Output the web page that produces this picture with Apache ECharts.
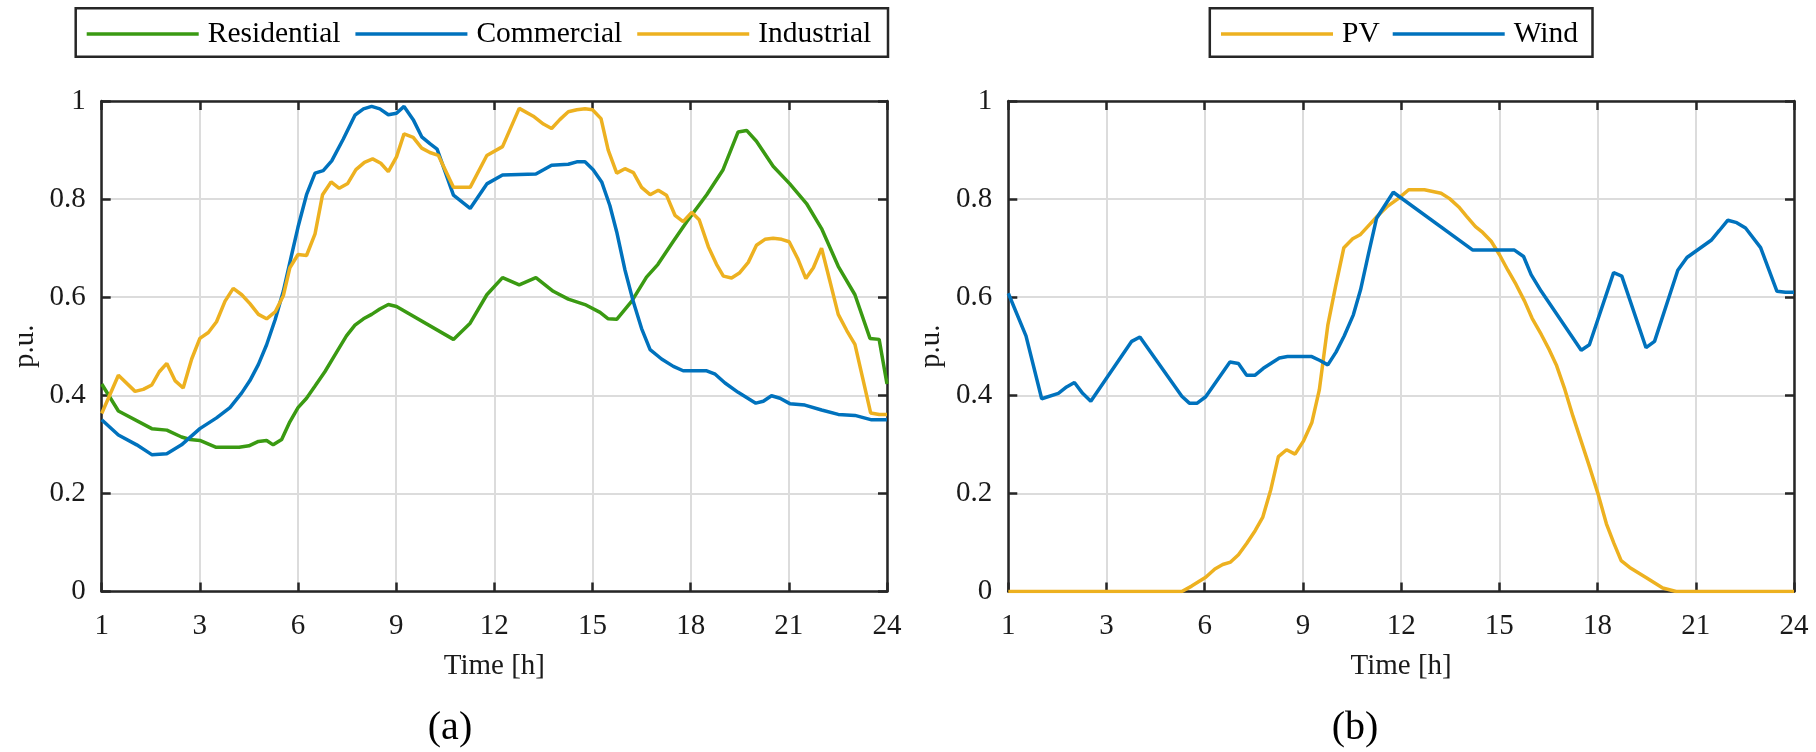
<!DOCTYPE html>
<html>
<head>
<meta charset="utf-8">
<script src="https://cdn.jsdelivr.net/npm/echarts@6/dist/echarts.min.js"></script>
<style>
html,body{margin:0;padding:0;background:#fff;}
#chart{width:1816px;height:752px;}
</style>
</head>
<body>
<div id="chart"></div>
<script>
// ---- data (hour position on axis, p.u.) ----
const xTickLabels = ['1','3','6','9','12','15','18','21','24'];
const yTickLabels = ['0','0.2','0.4','0.6','0.8','1'];
const loadNames = ['Residential','Commercial','Industrial'];
const genNames = ['PV','Wind'];

const residential = [[0,0.423],[0.51,0.368],[1.53,0.332],[1.99,0.329],[2.44,0.315],[2.7,0.310],[3.0,0.308],[3.5,0.294],[4.2,0.294],[4.5,0.297],[4.79,0.306],[5.04,0.308],[5.24,0.299],[5.5,0.310],[5.75,0.346],[6.0,0.375],[6.26,0.394],[6.52,0.419],[6.82,0.448],[7.18,0.488],[7.48,0.521],[7.74,0.543],[8.0,0.556],[8.25,0.565],[8.5,0.576],[8.76,0.585],[9.01,0.581],[10.75,0.514],[11.26,0.547],[11.77,0.605],[12.25,0.640],[12.76,0.625],[13.27,0.640],[13.8,0.612],[14.26,0.596],[14.77,0.585],[15.23,0.569],[15.48,0.556],[15.74,0.555],[16.2,0.592],[16.65,0.641],[17.0,0.667],[17.47,0.714],[17.88,0.754],[18.49,0.809],[18.99,0.860],[19.45,0.937],[19.71,0.940],[20.01,0.918],[20.52,0.867],[21.03,0.831],[21.54,0.791],[22.0,0.740],[22.51,0.663],[23.02,0.605],[23.48,0.516],[23.76,0.514],[24,0.423]];

const commercial = [[0,0.350],[0.51,0.319],[1.07,0.299],[1.53,0.279],[1.99,0.281],[2.44,0.299],[3.0,0.332],[3.51,0.354],[3.92,0.375],[4.28,0.405],[4.53,0.430],[4.79,0.463],[5.04,0.503],[5.3,0.554],[5.55,0.612],[5.8,0.685],[6.0,0.743],[6.26,0.809],[6.52,0.853],[6.77,0.858],[7.03,0.878],[7.38,0.922],[7.74,0.971],[8.0,0.984],[8.25,0.989],[8.5,0.984],[8.76,0.972],[9.01,0.975],[9.24,0.989],[9.52,0.962],[9.78,0.927],[10.03,0.913],[10.25,0.902],[10.75,0.808],[11.26,0.781],[11.77,0.831],[12.25,0.849],[13.27,0.851],[13.75,0.869],[14.26,0.871],[14.52,0.876],[14.77,0.876],[15.02,0.860],[15.28,0.835],[15.53,0.787],[15.74,0.733],[15.99,0.656],[16.25,0.590],[16.5,0.536],[16.76,0.493],[17.11,0.474],[17.47,0.459],[17.77,0.450],[18.49,0.450],[18.75,0.443],[19.05,0.425],[19.45,0.406],[19.99,0.384],[20.22,0.388],[20.47,0.399],[20.73,0.394],[21.03,0.383],[21.49,0.380],[22.0,0.370],[22.51,0.361],[23.02,0.359],[23.53,0.350],[24,0.350]];

const industrial = [[0,0.363],[0.51,0.441],[1.02,0.408],[1.27,0.412],[1.53,0.421],[1.76,0.448],[1.99,0.465],[2.24,0.430],[2.49,0.415],[2.75,0.474],[3.0,0.516],[3.26,0.528],[3.51,0.550],[3.77,0.592],[4.02,0.618],[4.28,0.605],[4.53,0.587],[4.79,0.565],[5.04,0.556],[5.3,0.570],[5.55,0.603],[5.75,0.660],[6.0,0.687],[6.26,0.685],[6.52,0.729],[6.75,0.809],[7.01,0.835],[7.26,0.822],[7.52,0.832],[7.77,0.860],[8.03,0.875],[8.28,0.882],[8.53,0.873],[8.76,0.856],[9.01,0.886],[9.24,0.933],[9.52,0.926],[9.78,0.904],[10.03,0.895],[10.29,0.889],[10.75,0.824],[11.26,0.824],[11.77,0.889],[12.25,0.907],[12.76,0.985],[13.19,0.969],[13.5,0.953],[13.75,0.944],[14.0,0.962],[14.26,0.978],[14.52,0.982],[14.77,0.984],[15.0,0.982],[15.26,0.964],[15.48,0.900],[15.74,0.853],[15.99,0.862],[16.25,0.854],[16.5,0.824],[16.76,0.809],[17.01,0.818],[17.26,0.808],[17.52,0.767],[17.77,0.754],[18.03,0.773],[18.26,0.758],[18.54,0.703],[18.79,0.667],[19.0,0.643],[19.25,0.639],[19.5,0.650],[19.76,0.671],[20.01,0.706],[20.27,0.718],[20.52,0.720],[20.78,0.718],[21.01,0.713],[21.27,0.679],[21.52,0.638],[21.75,0.660],[22.0,0.700],[22.25,0.634],[22.51,0.565],[22.77,0.532],[23.02,0.504],[23.25,0.437],[23.5,0.364],[23.76,0.361],[24,0.361]];

const pv = [[0,0],[5.3,0],[5.6,0.011],[6.03,0.029],[6.31,0.046],[6.55,0.055],[6.79,0.060],[7.03,0.075],[7.28,0.098],[7.54,0.124],[7.77,0.151],[8.02,0.208],[8.25,0.275],[8.5,0.289],[8.76,0.280],[9.01,0.306],[9.27,0.344],[9.5,0.411],[9.76,0.543],[10.0,0.623],[10.25,0.701],[10.52,0.719],[10.76,0.728],[11.02,0.747],[11.27,0.765],[11.56,0.784],[11.91,0.801],[12.23,0.819],[12.71,0.819],[13.22,0.812],[13.48,0.801],[13.76,0.784],[14.0,0.765],[14.27,0.744],[14.49,0.732],[14.75,0.714],[15.0,0.687],[15.26,0.655],[15.51,0.626],[15.77,0.592],[16.0,0.557],[16.28,0.524],[16.53,0.492],[16.74,0.462],[17.0,0.412],[17.25,0.357],[17.5,0.306],[17.76,0.253],[18.01,0.200],[18.27,0.138],[18.5,0.098],[18.72,0.063],[18.98,0.049],[19.49,0.028],[19.99,0.007],[20.4,0],[24,0]];

const wind = [[0,0.608],[0.54,0.521],[1.02,0.393],[1.53,0.404],[1.78,0.417],[2.02,0.426],[2.27,0.404],[2.52,0.388],[3.77,0.510],[4.02,0.519],[5.3,0.398],[5.53,0.384],[5.77,0.384],[6.03,0.397],[6.77,0.468],[7.03,0.465],[7.28,0.441],[7.54,0.441],[7.79,0.455],[8.28,0.476],[8.53,0.479],[9.27,0.479],[9.52,0.471],[9.76,0.462],[10.01,0.488],[10.26,0.521],[10.54,0.564],[10.76,0.615],[11.0,0.688],[11.25,0.761],[11.76,0.814],[14.19,0.696],[15.46,0.696],[15.74,0.683],[15.97,0.646],[16.28,0.612],[17.5,0.492],[17.75,0.503],[18.49,0.650],[18.74,0.643],[19.48,0.497],[19.74,0.510],[20.45,0.655],[20.73,0.681],[21.47,0.716],[21.72,0.736],[21.98,0.757],[22.25,0.752],[22.52,0.741],[22.98,0.701],[23.48,0.612],[23.74,0.610],[24,0.610]];

// ---- styling ----
const FONT = 'Liberation Serif';
const INK = '#1a1a1a';
const BOX = '#262626';
const GRIDC = '#dcdcdc';
const GREEN = '#3a9a12', BLUE = '#0072bd', YELLOW = '#edb120';
const LW = 3.5;

const grids = [
  {left: 101.7, top: 101, width: 785.3, height: 490.5},
  {left: 1008.3, top: 101, width: 785.7, height: 490.5}
];

function bottomX(gi){
  return {type:'value', gridIndex:gi, min:0, max:24, interval:3, position:'bottom',
    axisLine:{show:true, onZero:false, lineStyle:{color:BOX, width:2.5}},
    axisTick:{show:true, inside:true, length:9, lineStyle:{color:BOX, width:2.5}},
    axisLabel:{show:true, margin:20, fontFamily:FONT, fontSize:29, color:INK, showMinLabel:true, showMaxLabel:true,
      formatter:(v)=>xTickLabels[Math.round(v/3)]},
    splitLine:{show:true, lineStyle:{color:GRIDC, width:2}},
    name:'Time [h]', nameLocation:'middle', nameGap:60,
    nameTextStyle:{fontFamily:FONT, fontSize:29, color:INK}
  };
}
function topX(gi){
  return {type:'value', gridIndex:gi, min:0, max:24, interval:3, position:'top',
    axisLine:{show:true, onZero:false, lineStyle:{color:BOX, width:2.5}},
    axisTick:{show:true, inside:true, length:9, lineStyle:{color:BOX, width:2.5}},
    axisLabel:{show:false}, splitLine:{show:false}};
}
function leftY(gi){
  return {type:'value', gridIndex:gi, min:0, max:1, interval:0.2, position:'left',
    axisLine:{show:true, onZero:false, lineStyle:{color:BOX, width:2.5}},
    axisTick:{show:true, inside:true, length:9, lineStyle:{color:BOX, width:2.5}},
    axisLabel:{show:true, margin:16, fontFamily:FONT, fontSize:29, color:INK,
      formatter:(v)=>yTickLabels[Math.round(v/0.2)]},
    splitLine:{show:true, lineStyle:{color:GRIDC, width:2}},
    name:'p.u.', nameLocation:'middle', nameGap:62, nameRotate:90,
    nameTextStyle:{fontFamily:FONT, fontSize:29, color:INK}
  };
}
function rightY(gi){
  return {type:'value', gridIndex:gi, min:0, max:1, interval:0.2, position:'right',
    axisLine:{show:true, onZero:false, lineStyle:{color:BOX, width:2.5}},
    axisTick:{show:true, inside:true, length:9, lineStyle:{color:BOX, width:2.5}},
    axisLabel:{show:false}, splitLine:{show:false}};
}
function line(name, data, color, xi, yi){
  return {type:'line', name, data, xAxisIndex:xi, yAxisIndex:yi, showSymbol:false, symbol:'none',
    lineStyle:{color, width:LW}, itemStyle:{color}, z:3, silent:true};
}
const legendCommon = {orient:'horizontal', padding:0, icon:'rect', itemHeight:3.5, top:19,
  textStyle:{fontFamily:FONT, fontSize:29.5, color:'#000', padding:[0,0,0,4]}, selectedMode:false};

const option = {
  animation:false,
  backgroundColor:'#fff',
  grid: grids,
  xAxis:[bottomX(0), topX(0), bottomX(1), topX(1)],
  yAxis:[leftY(0), rightY(0), leftY(1), rightY(1)],
  legend:[
    Object.assign({}, legendCommon, {left:86.7, itemWidth:112, itemGap:15, data:loadNames}),
    Object.assign({}, legendCommon, {left:1221, itemWidth:112, itemGap:13, data:genNames})
  ],
  graphic:[
    {type:'rect', z:0, shape:{x:75.7, y:8.3, width:812.3, height:48.4}, style:{fill:'#fff', stroke:BOX, lineWidth:2.5}},
    {type:'rect', z:0, shape:{x:1209.8, y:8.3, width:382.7, height:48.4}, style:{fill:'#fff', stroke:BOX, lineWidth:2.5}},
    {type:'text', z:5, x:450, y:728, style:{text:'(a)', font:'40px "Liberation Serif"', fill:'#000', textAlign:'center', textVerticalAlign:'middle'}},
    {type:'text', z:5, x:1355, y:728, style:{text:'(b)', font:'40px "Liberation Serif"', fill:'#000', textAlign:'center', textVerticalAlign:'middle'}}
  ],
  series:[
    line(loadNames[0], residential, GREEN, 0, 0),
    line(loadNames[1], commercial, BLUE, 0, 0),
    line(loadNames[2], industrial, YELLOW, 0, 0),
    line(genNames[0], pv, YELLOW, 2, 2),
    line(genNames[1], wind, BLUE, 2, 2)
  ]
};
const chart = echarts.init(document.getElementById('chart'), null, {renderer:'canvas'});
chart.setOption(option);
</script>
</body>
</html>
